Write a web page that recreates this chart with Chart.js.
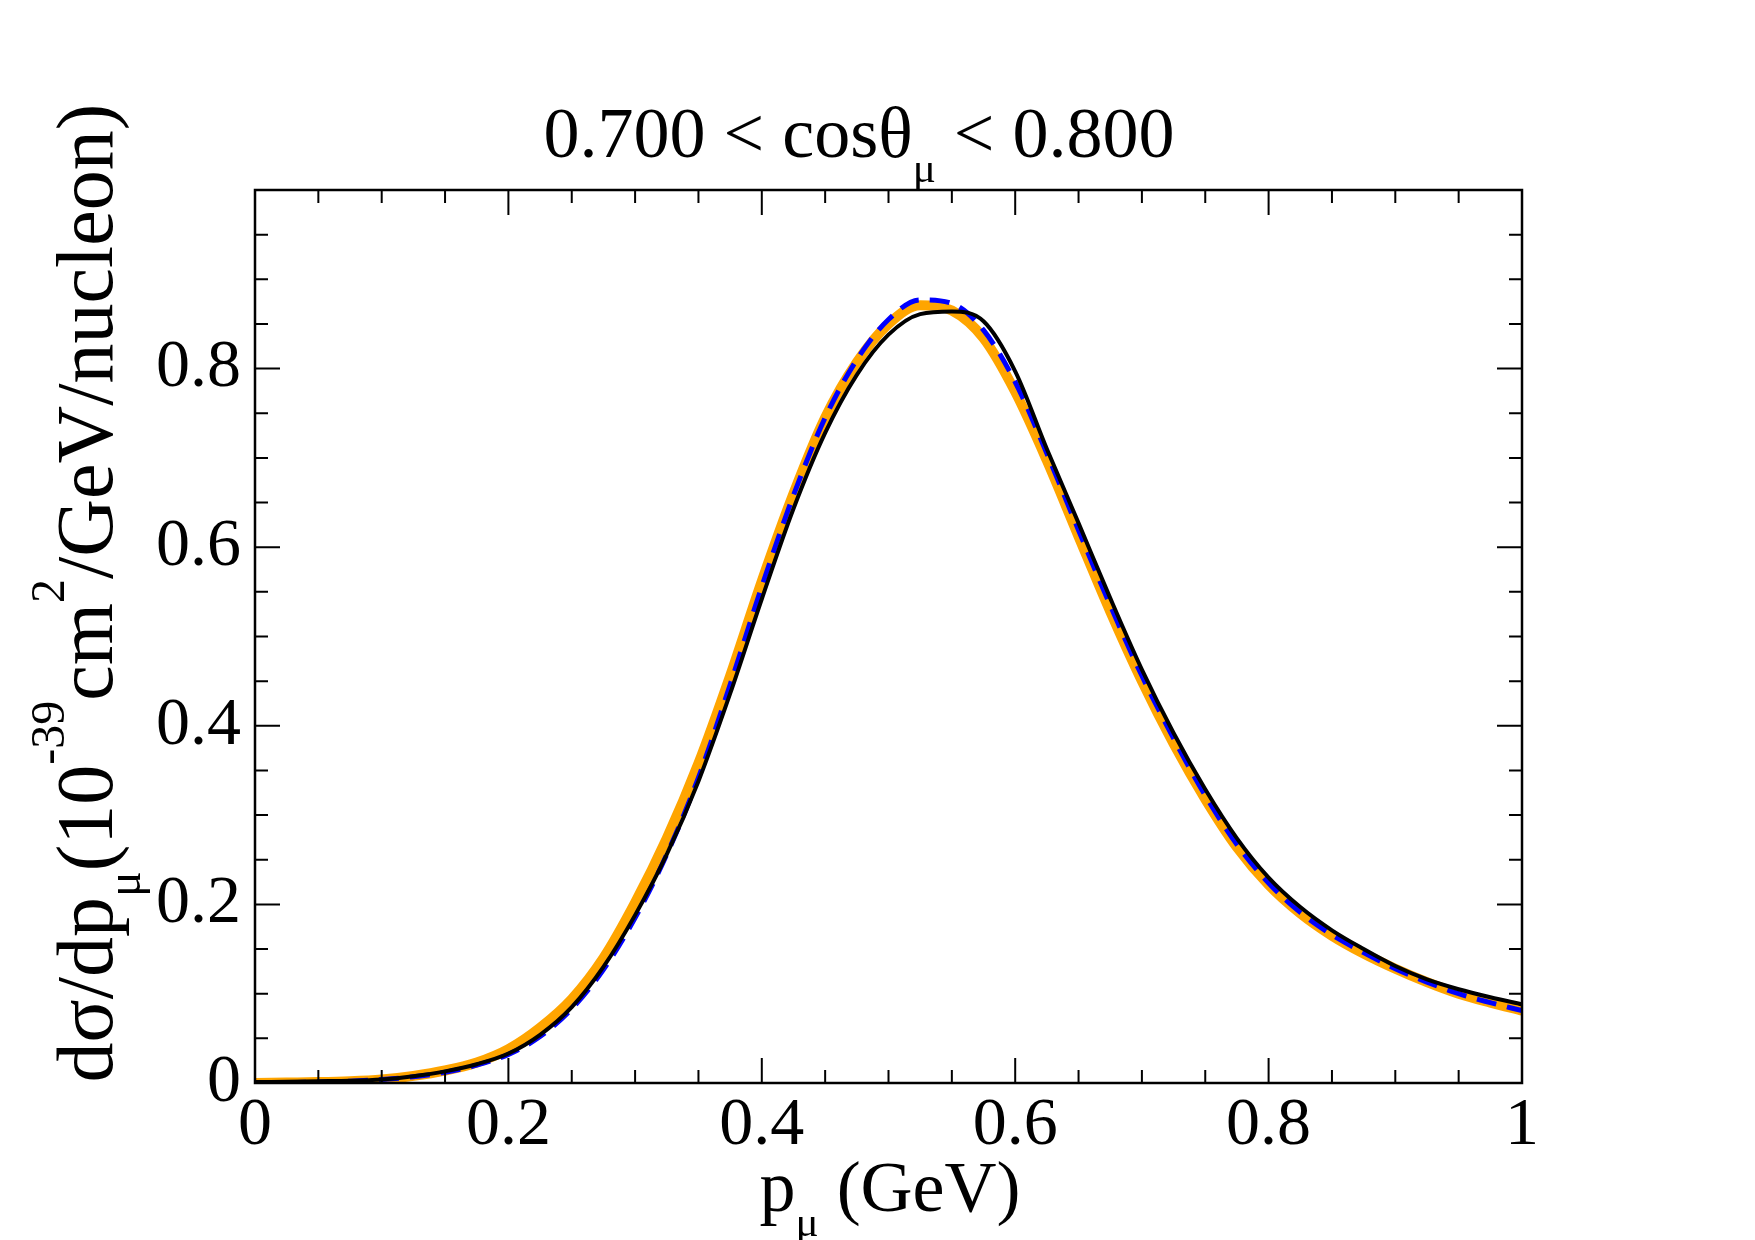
<!DOCTYPE html>
<html>
<head>
<meta charset="utf-8">
<title>dsigma/dp</title>
<script src="https://cdn.jsdelivr.net/npm/chart.js@4.4.1/dist/chart.umd.min.js"></script>
<style>
  html, body { margin: 0; padding: 0; background: #fff; }
  #chart { display: block; }
</style>
</head>
<body>
<canvas id="chart" width="1755" height="1240"></canvas>
<script>
// muon momentum (GeV)
var momentum = [0, 0.025, 0.05, 0.075, 0.1, 0.125, 0.15, 0.175, 0.2, 0.225,
    0.25, 0.275, 0.3, 0.325, 0.35, 0.375, 0.4, 0.425, 0.45, 0.475,
    0.5, 0.525, 0.55, 0.575, 0.6, 0.625, 0.65, 0.675, 0.7, 0.725,
    0.75, 0.775, 0.8, 0.825, 0.85, 0.875, 0.9, 0.925, 0.95, 0.975, 1];

// thick orange curve
var orangeCurve = [0, 0.0005, 0.001, 0.002, 0.004, 0.008, 0.014, 0.023, 0.038, 0.062,
    0.094, 0.14, 0.202, 0.274, 0.358, 0.456, 0.562, 0.66, 0.745, 0.807,
    0.85, 0.871, 0.865, 0.834, 0.774, 0.697, 0.612, 0.528, 0.45, 0.38,
    0.318, 0.264, 0.222, 0.19, 0.165, 0.145, 0.128, 0.113, 0.1, 0.09, 0.081];

// blue dashed curve
var blueCurve = [0, 0.0005, 0.001, 0.002, 0.004, 0.007, 0.012, 0.02, 0.032, 0.052,
    0.083, 0.127, 0.185, 0.256, 0.342, 0.446, 0.556, 0.658, 0.745, 0.81,
    0.855, 0.877, 0.873, 0.843, 0.785, 0.705, 0.619, 0.535, 0.456, 0.386,
    0.322, 0.267, 0.224, 0.191, 0.166, 0.146, 0.128, 0.113, 0.1, 0.09, 0.081];

// black solid curve
var blackCurve = [0.001, 0.0015, 0.002, 0.0025, 0.004, 0.0076, 0.013, 0.021, 0.033, 0.054,
    0.085, 0.13, 0.188, 0.256, 0.338, 0.436, 0.542, 0.643, 0.728, 0.793,
    0.838, 0.861, 0.864, 0.853, 0.797, 0.71, 0.627, 0.543, 0.463, 0.392,
    0.329, 0.274, 0.23, 0.197, 0.171, 0.15, 0.131, 0.116, 0.105, 0.096, 0.088];

var xTickLabels = ['0', '0.2', '0.4', '0.6', '0.8', '1'];
var yTickLabels = ['0', '0.2', '0.4', '0.6', '0.8'];

// text pieces: [text, 0 = normal, -1 = subscript, 1 = superscript]
var titleParts = [['0.700 < cosθ', 0], ['μ', -1], [' < 0.800', 0]];
var xTitleParts = [['p', 0], ['μ', -1], [' (GeV)', 0]];
var yTitleParts = [['dσ/dp', 0], ['μ', -1], ['(10', 0], ['-39', 1], ['cm', 0], ['2', 1], ['/GeV/nucleon)', 0]];

var FONT = '"Liberation Serif", "Times New Roman", serif';

function toPoints(ys) {
    return momentum.map(function (p, i) { return { x: p, y: ys[i] }; });
}

function partSize(part, size) {
    return part[1] === 0 ? size : size * 0.6;
}

function richWidth(ctx, parts, size) {
    var w = 0;
    parts.forEach(function (p) {
        ctx.font = partSize(p, size) + 'px ' + FONT;
        w += ctx.measureText(p[0]).width;
    });
    return w;
}

// draws text with sub/superscripts centred on cx
function drawRich(ctx, parts, cx, y, size) {
    var x = cx - richWidth(ctx, parts, size) / 2;
    ctx.textAlign = 'left';
    ctx.textBaseline = 'alphabetic';
    ctx.fillStyle = '#000';
    parts.forEach(function (p) {
        ctx.font = partSize(p, size) + 'px ' + FONT;
        var dy = 0;
        if (p[1] < 0) dy = size * 0.35;
        if (p[1] > 0) dy = -size * 0.6;
        ctx.fillText(p[0], x, y + dy);
        x += ctx.measureText(p[0]).width;
    });
}

var framePlugin = {
    id: 'frame',
    afterDatasetsDraw: function (chart) {
        var ctx = chart.ctx, a = chart.chartArea;
        var xs = chart.scales.x, ys = chart.scales.y;
        ctx.save();
        ctx.strokeStyle = '#000';
        ctx.lineWidth = 2;
        ctx.beginPath();
        for (var i = 0; i <= 20; i++) {
            var v = i * 0.05;
            var len = (i % 4 === 0) ? 25 : 13;
            var px = xs.getPixelForValue(v);
            var py = ys.getPixelForValue(v);
            ctx.moveTo(px, a.bottom); ctx.lineTo(px, a.bottom - len);
            ctx.moveTo(px, a.top); ctx.lineTo(px, a.top + len);
            ctx.moveTo(a.left, py); ctx.lineTo(a.left + len, py);
            ctx.moveTo(a.right, py); ctx.lineTo(a.right - len, py);
        }
        ctx.stroke();
        ctx.lineWidth = 2.5;
        ctx.strokeRect(a.left, a.top, a.right - a.left, a.bottom - a.top);
        ctx.restore();
    },
    afterDraw: function (chart) {
        var ctx = chart.ctx;
        ctx.save();
        drawRich(ctx, titleParts, 859, 157, 72);
        drawRich(ctx, xTitleParts, 890, 1211, 72);
        ctx.translate(112, 593);
        ctx.rotate(-Math.PI / 2);
        drawRich(ctx, yTitleParts, 0, 0, 80);
        ctx.restore();
    }
};

var chart = new Chart(document.getElementById('chart').getContext('2d'), {
    type: 'line',
    data: {
        datasets: [{
            label: 'black',
            data: toPoints(blackCurve),
            borderColor: '#000000',
            borderWidth: 4
        }, {
            label: 'blue',
            data: toPoints(blueCurve),
            borderColor: '#0000ff',
            borderWidth: 5,
            borderDash: [20, 11]
        }, {
            label: 'orange',
            data: toPoints(orangeCurve),
            borderColor: '#ffa500',
            borderWidth: 10
        }]
    },
    options: {
        responsive: false,
        animation: false,
        devicePixelRatio: 1,
        layout: { padding: { left: 0, right: 233, top: 190, bottom: 0 } },
        elements: {
            point: { radius: 0 },
            line: { cubicInterpolationMode: 'monotone', fill: false }
        },
        plugins: {
            legend: { display: false },
            tooltip: { enabled: false },
            title: { display: false }
        },
        scales: {
            x: {
                type: 'linear',
                min: 0,
                max: 1,
                grid: { display: false, drawTicks: false },
                border: { display: false },
                afterFit: function (scale) { scale.height = 157; },
                ticks: {
                    stepSize: 0.2,
                    autoSkip: false,
                    maxRotation: 0,
                    padding: 2,
                    color: '#000',
                    font: { family: FONT, size: 68 },
                    callback: function (v) {
                        var i = Math.round(v / 0.2);
                        return xTickLabels[i];
                    }
                }
            },
            y: {
                type: 'linear',
                min: 0,
                max: 1,
                grid: { display: false, drawTicks: false },
                border: { display: false },
                afterFit: function (scale) { scale.width = 255; },
                ticks: {
                    stepSize: 0.2,
                    autoSkip: false,
                    padding: 14,
                    color: '#000',
                    font: { family: FONT, size: 68 },
                    callback: function (v) {
                        var i = Math.round(v / 0.2);
                        return i < yTickLabels.length ? yTickLabels[i] : '';
                    }
                }
            }
        }
    },
    plugins: [framePlugin]
});
</script>
</body>
</html>
